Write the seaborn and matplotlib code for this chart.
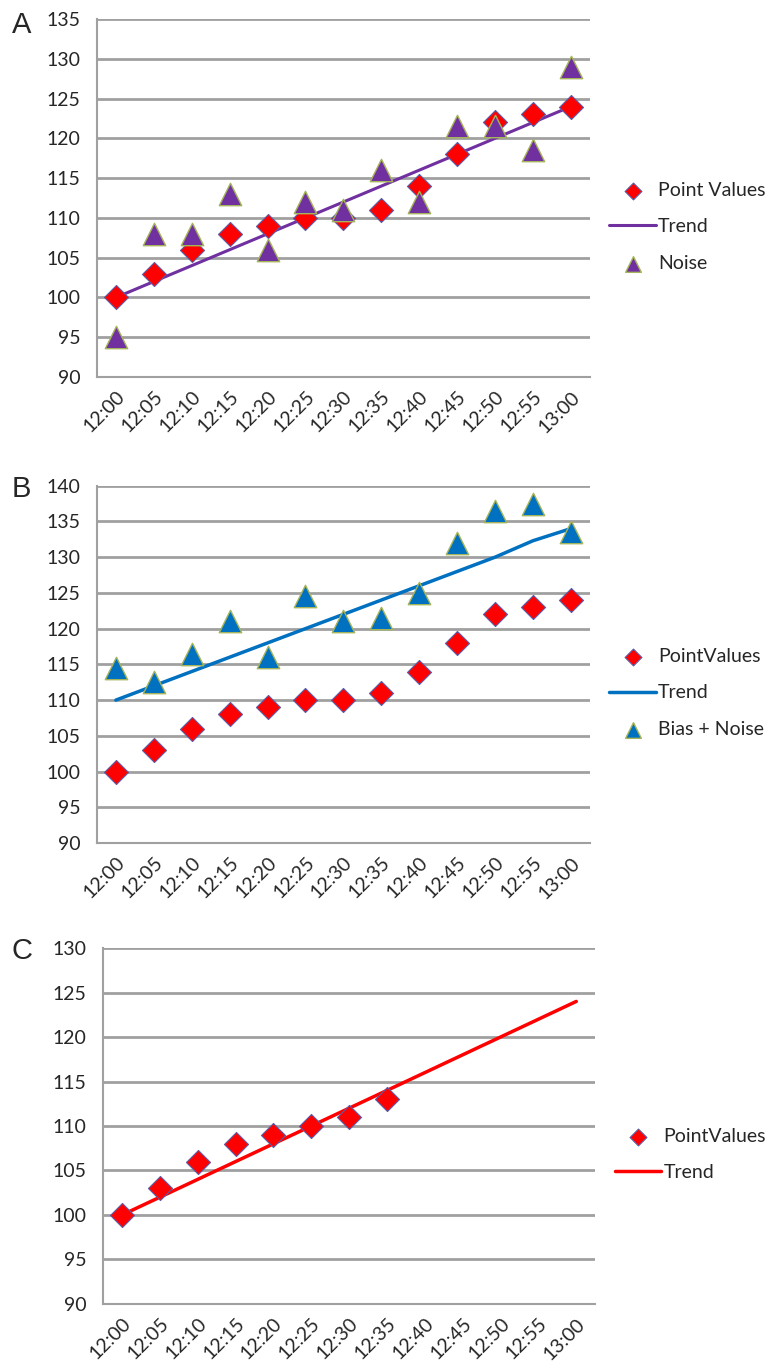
import numpy as np
import pandas as pd
import matplotlib
matplotlib.use('Agg')
import matplotlib.pyplot as plt
import seaborn as sns

times = ['12:00', '12:05', '12:10', '12:15', '12:20', '12:25', '12:30',
         '12:35', '12:40', '12:45', '12:50', '12:55', '13:00']
point_values = [100, 103, 106, 108, 109, 110, 110, 111, 114, 118, 122, 123, 124]
noise_a = [95, 108, 108, 113, 106, 112, 111, 116, 112, 121.5, 121.5, 118.5, 129]
trend_a = [100, 102, 104, 106, 108, 110, 112, 114, 116, 118, 120, 122, 124]
bias_noise_b = [114.5, 112.5, 116.5, 121, 116, 124.5, 121, 121.5, 125, 132, 136.5, 137.5, 133.5]
trend_b = [110, 112, 114, 116, 118, 120, 122, 124, 126, 128, 130, 132.3, 134]
point_values_c = [100, 103, 106, 108, 109, 110, 111, 113]
trend_c = [100, 102, 104, 106, 108, 110, 112, 114, 116, 118, 120, 122, 124]

sns.set_style('white')
plt.rcParams['font.family'] = ['Lato', 'DejaVu Sans']

grid_col = '#a0a0a0'
fig = plt.figure(figsize=(7.69, 13.69), dpi=100)


def style_axes(ax, ylo, yhi):
    ax.set_xlim(-0.5, 12.5)
    ax.set_ylim(ylo, yhi)
    ax.set_yticks(np.arange(ylo, yhi + 1, 5))
    ax.set_xticks(range(len(times)))
    ax.set_xticklabels(times, rotation=45, ha='right', rotation_mode='anchor')
    ax.set_xticks(np.arange(-0.5, 13, 1), minor=True)
    ax.tick_params(axis='x', which='major', length=0, labelsize=14, pad=8)
    ax.tick_params(axis='x', which='minor', length=6, width=1.5, color=grid_col)
    ax.tick_params(axis='y', length=6, width=1.5, color=grid_col, labelsize=14, pad=6)
    ax.yaxis.grid(True, color=grid_col, lw=2)
    ax.set_axisbelow(True)
    for s in ['top', 'right']:
        ax.spines[s].set_visible(False)
    for s in ['left', 'bottom']:
        ax.spines[s].set_color(grid_col)
        ax.spines[s].set_linewidth(1.5)
    ax.set_xlabel('')
    ax.set_ylabel('')


# panel A
ax0 = fig.add_axes([0.126, 0.7246, 0.641, 0.2615])
sns.lineplot(x=times, y=trend_a, ax=ax0, color='#7030a0', lw=2.2, label='Trend', zorder=2)
sns.scatterplot(x=times, y=point_values, ax=ax0, marker='D', s=150, color='#ff0000',
                edgecolor='#5b5ba8', linewidth=0.8, label='Point Values', zorder=3)
sns.scatterplot(x=times, y=noise_a, ax=ax0, marker='^', s=260, color='#7030a0',
                edgecolor='#a4b45a', linewidth=1.0, label='Noise', zorder=4)
style_axes(ax0, 90, 135)

# panel B
ax1 = fig.add_axes([0.126, 0.3842, 0.641, 0.2610])
sns.lineplot(x=times, y=trend_b, ax=ax1, color='#0070c0', lw=2.5, label='Trend', zorder=2)
sns.scatterplot(x=times, y=point_values, ax=ax1, marker='D', s=150, color='#ff0000',
                edgecolor='#5b5ba8', linewidth=0.8, label='PointValues', zorder=3)
sns.scatterplot(x=times, y=bias_noise_b, ax=ax1, marker='^', s=260, color='#0070c0',
                edgecolor='#a4b45a', linewidth=1.0, label='Bias + Noise', zorder=4)
style_axes(ax1, 90, 140)

# panel C
ax2 = fig.add_axes([0.134, 0.0475, 0.640, 0.2600])
sns.lineplot(x=times, y=trend_c, ax=ax2, color='#ff0000', lw=2.5, label='Trend', zorder=2)
sns.scatterplot(x=times[:len(point_values_c)], y=point_values_c, ax=ax2, marker='D', s=150,
                color='#ff0000', edgecolor='#5b5ba8', linewidth=0.8, label='PointValues', zorder=3)
style_axes(ax2, 90, 130)

legend_pos = [(ax0, 0.42, ['Point Values', 'Trend', 'Noise']),
              (ax1, 0.42, ['PointValues', 'Trend', 'Bias + Noise']),
              (ax2, 0.42, ['PointValues', 'Trend'])]
for ax, yy, order in legend_pos:
    h, l = ax.get_legend_handles_labels()
    lk = dict(zip(l, h))
    ax.legend([lk[k] for k in order], order, loc='center left',
              bbox_to_anchor=(1.0, yy), frameon=False, markerscale=0.7,
              fontsize=14, handlelength=2.4, handletextpad=0.1, labelspacing=1.0,
              borderaxespad=0.6)

fig.text(0.015, 0.982, 'A', fontsize=21, family='Liberation Sans', va='center')
fig.text(0.015, 0.643, 'B', fontsize=21, family='Liberation Sans', va='center')
fig.text(0.015, 0.305, 'C', fontsize=21, family='Liberation Sans', va='center')

plt.savefig('out.png', dpi=100)
